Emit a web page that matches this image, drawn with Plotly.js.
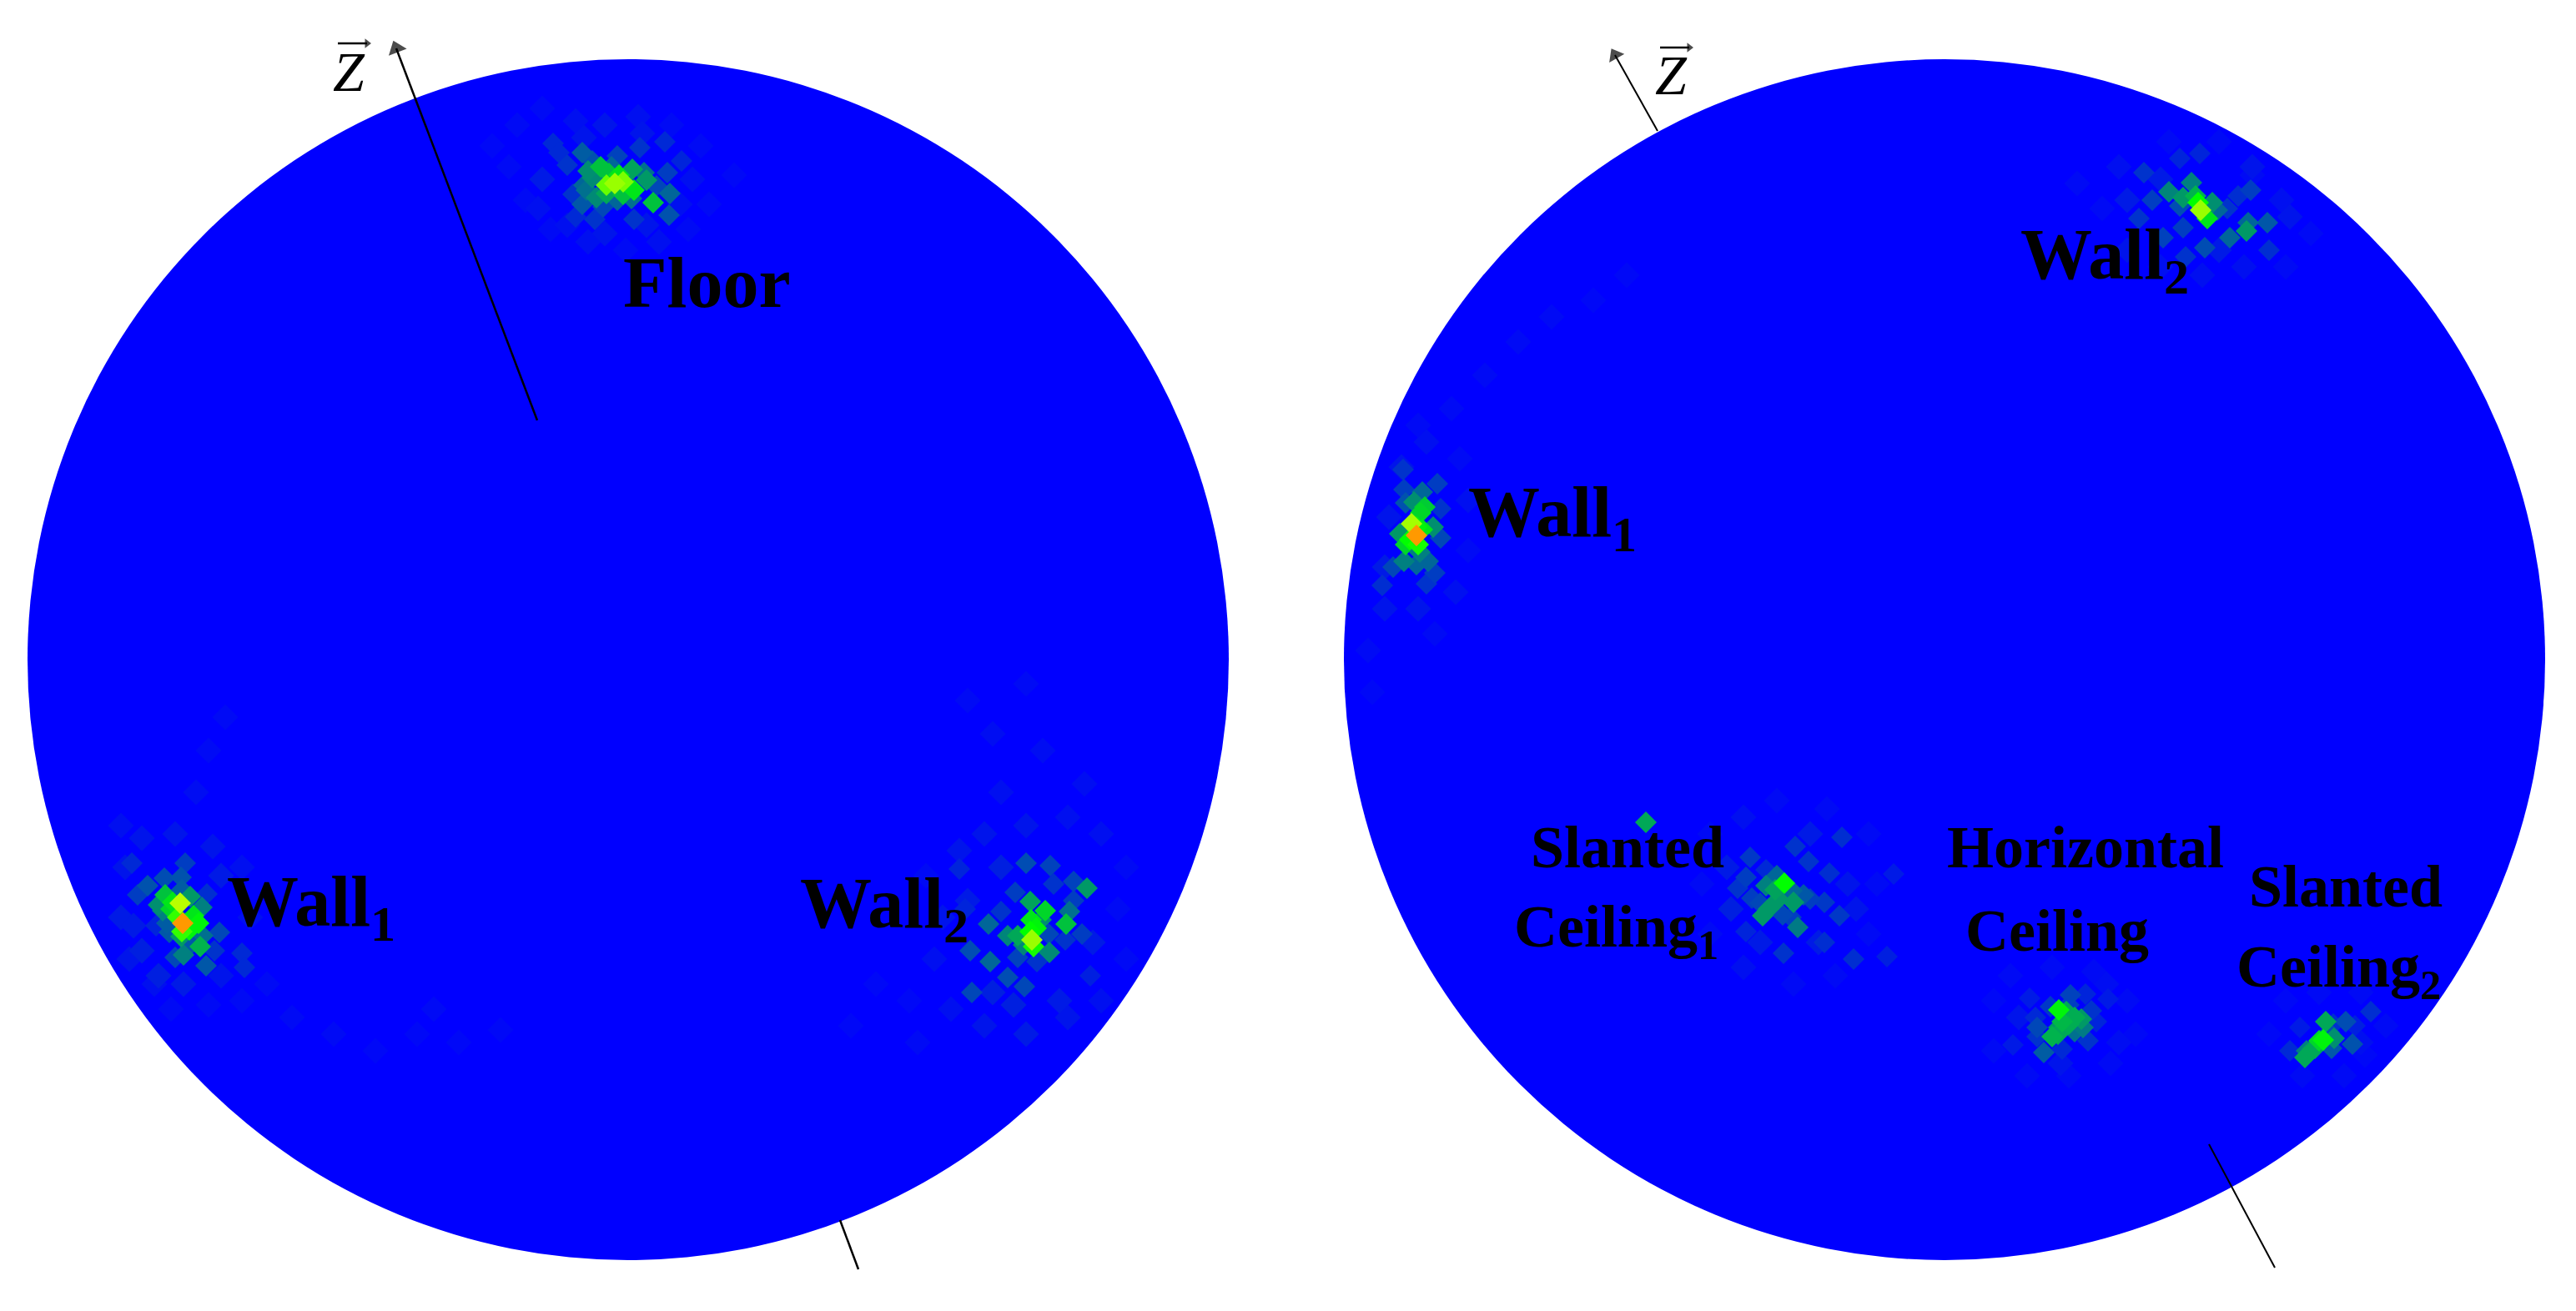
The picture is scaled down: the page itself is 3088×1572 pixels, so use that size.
<!DOCTYPE html>
<html>
<head>
<meta charset="utf-8">
<script src="https://cdn.plot.ly/plotly-3.0.1.min.js"></script>
<style>html,body{margin:0;padding:0;background:#fff}#plot{width:3088px;height:1572px}</style>
</head>
<body>
<div id="plot"></div>
<script>
// sphere discs, image pixel coordinates
var discR = 720;
var leftCx = 753, leftCy = 791;
var rightCx = 2331, rightCy = 791;

// left disc hot spots
var floorX = [737,747,727,742,720,730,758,772,760,747,775,727,715,710,705,700,703,783,757,740,733,710,698,740,767,797,800,803,802,760,698,723,680,663,670,687,787,713,690,817];
var floorY = [220,218,222,210,200,208,203,207,228,233,216,232,237,213,205,222,228,243,238,240,200,193,183,187,177,170,207,232,258,263,245,248,198,172,183,233,223,263,260,193];
var floorV = [.65,.62,.6,.45,.38,.38,.32,.22,.45,.38,.3,.33,.27,.27,.28,.2,.22,.38,.22,.2,.2,.16,.18,.13,.1,.08,.12,.2,.16,.1,.17,.14,.1,.08,.08,.1,.14,.1,.08,.07];

var wall1LX = [219,216,213,218,207,198,205,228,232,238,227,242,190,195,217,240,243,220,200,203,218,217,177,165,197,222,158,263,248,247,257,210,187,228,290,293];
var wall1LY = [1107,1083,1100,1117,1082,1073,1090,1075,1098,1107,1115,1088,1085,1092,1123,1135,1122,1145,1107,1118,1067,1052,1062,1073,1053,1035,1035,1118,1072,1158,1140,1148,1110,1133,1143,1160];
var wall1LV = [.85,.68,.55,.55,.45,.38,.42,.3,.45,.48,.48,.25,.28,.25,.3,.35,.22,.25,.18,.17,.18,.16,.16,.12,.15,.12,.08,.14,.09,.17,.1,.14,.07,.17,.08,.08];

var wall2LX = [1237,1239,1235,1242,1236,1253,1248,1235,1278,1220,1208,1227,1258,1303,1282,1185,1187,1163,1208,1165,1228,1230,1259,1217,1287,1150,1263,1200,1257,1220,1297,1277,1243,1157,1307,1287];
var wall2LY = [1127,1135,1117,1113,1103,1092,1103,1081,1108,1122,1122,1133,1142,1065,1093,1108,1153,1140,1172,1190,1183,1035,1038,1070,1057,1042,1060,1093,1120,1148,1120,1127,1153,1090,1170,1080];
var wall2LV = [.65,.52,.5,.48,.45,.42,.28,.32,.38,.33,.26,.26,.27,.3,.22,.2,.2,.15,.15,.14,.14,.15,.13,.12,.13,.07,.1,.1,.14,.13,.12,.1,.1,.07,.06,.12];

// right disc hot spots
var wall2RX = [2638,2635,2646,2632,2652,2617,2600,2627,2658,2693,2673,2718,2643,2593,2617,2580,2564,2570,2613,2637,2698,2683,2670,2695,2613,2620,2720];
var wall2RY = [252,243,262,235,243,237,230,219,252,277,285,267,297,285,273,240,262,207,190,184,228,235,250,267,247,308,300];
var wall2RV = [.65,.5,.45,.35,.28,.3,.26,.25,.2,.3,.2,.17,.15,.13,.12,.12,.1,.1,.07,.07,.12,.09,.1,.2,.15,.1,.09];

var wall1RX = [1698,1692,1690,1700,1698,1705,1703,1708,1685,1695,1718,1683,1705,1702,1712,1698,1727,1723,1683,1682,1670,1720,1657,1710,1727,1685,1678];
var wall1RY = [642,628,647,653,632,635,615,608,653,602,632,673,590,662,673,677,645,580,587,563,680,687,702,700,610,603,640];
var wall1RV = [.85,.66,.5,.52,.48,.45,.42,.4,.42,.28,.28,.25,.2,.25,.2,.2,.14,.12,.12,.1,.14,.12,.09,.1,.1,.16,.3];

var slant1X = [2139,2128,2117,2130,2132,2120,2113,2150,2148,2162,2155,2110,2093,2098,2152,2168,2208,2193,2187,2205,2138,2187,2222,2083,2093,2262,2137,2170,2147,2100,2117,2270,1973];
var slant1Y = [1059,1067,1062,1050,1078,1090,1098,1082,1068,1073,1112,1083,1052,1028,1015,1033,1004,1047,1082,1098,1143,1130,1150,1065,1117,1147,1097,1078,1100,1077,1043,1048,986];
var slant1V = [.5,.32,.25,.2,.3,.3,.3,.3,.2,.17,.24,.14,.12,.11,.1,.1,.09,.09,.11,.11,.1,.09,.09,.1,.07,.06,.14,.12,.12,.12,.08,.05,.33];

var horizX = [2468,2477,2487,2495,2472,2480,2468,2467,2460,2497,2487,2482,2480,2458,2442,2442,2450,2472,2503,2507,2513,2440,2500,2527,2433,2413];
var horizY = [1211,1213,1220,1222,1225,1228,1232,1240,1243,1232,1237,1193,1205,1207,1232,1243,1262,1258,1248,1212,1225,1220,1192,1198,1197,1253];
var horizV = [.48,.33,.34,.3,.36,.34,.3,.33,.35,.24,.22,.13,.12,.11,.14,.1,.18,.08,.1,.1,.07,.08,.07,.05,.05,.05];

var slant2X = [2780,2785,2775,2772,2788,2798,2792,2765,2763,2812,2820,2795,2842,2745,2757,2823,2797];
var slant2Y = [1248,1247,1257,1258,1225,1245,1238,1260,1268,1225,1252,1257,1213,1260,1232,1230,1228];
var slant2V = [.42,.48,.33,.3,.33,.28,.16,.25,.33,.15,.16,.17,.09,.08,.05,.06,.09];

// faint cells around the spots and along the scattering bands
var glowFloorX = [620,650,690,725,765,805,840,830,850,825,790,750,705,660,630,610,650,645,680,700,770,815,775,725,590,880];
var glowFloorY = [150,130,145,150,140,150,175,215,245,275,290,300,290,275,240,200,215,250,270,165,160,245,270,280,175,210];
var glowFloorV = [.02,.02,.03,.04,.03,.02,.02,.03,.02,.02,.03,.02,.03,.02,.02,.02,.05,.03,.03,.04,.04,.03,.04,.04,.015,.015];

var glowWall1LX = [150,145,155,185,205,250,290,320,300,290,255,210,170,145,235,250,270,350,400,450,500,550,600,520,170,160,265,220,190,265];
var glowWall1LY = [1040,1100,1150,1180,1210,1205,1200,1180,1100,1040,1015,1000,1005,990,950,900,860,1220,1240,1260,1240,1250,1235,1210,1140,1110,1170,1180,1170,1050];
var glowWall1LV = [.04,.05,.04,.03,.02,.02,.02,.02,.03,.03,.04,.04,.04,.03,.025,.02,.02,.02,.02,.015,.015,.015,.015,.02,.06,.05,.04,.05,.06,.05];

var glowWall2LX = [1110,1130,1120,1140,1180,1230,1280,1320,1350,1340,1350,1320,1280,1230,1180,1150,1200,1250,1190,1160,1230,1300,1090,1050,1020,1100,1190,1270,1310,1200,1160,1215];
var glowWall2LY = [1050,1100,1150,1210,1230,1240,1220,1200,1150,1090,1040,1000,980,990,1000,1020,950,900,880,840,820,940,1200,1180,1230,1250,1190,1200,1130,1040,1080,1205];
var glowWall2LV = [.02,.04,.03,.03,.04,.05,.04,.03,.02,.02,.02,.03,.03,.04,.04,.04,.03,.025,.025,.02,.02,.025,.015,.015,.015,.02,.06,.05,.05,.06,.05,.06];

var glowWall2RX = [2540,2600,2660,2700,2735,2770,2740,2690,2640,2590,2550,2520,2490,2550,2660,2700,2745,2590];
var glowWall2RY = [200,170,170,210,240,280,320,320,330,320,300,250,220,240,300,200,260,215];
var glowWall2RV = [.03,.02,.02,.02,.03,.02,.02,.03,.03,.03,.04,.02,.02,.05,.05,.04,.04,.05];

var glowWall1RX = [1680,1665,1660,1660,1700,1745,1760,1760,1750,1710,1700,1740,1780,1820,1860,1910,1950,1640,1645,1720];
var glowWall1RY = [560,620,680,730,730,710,660,600,550,530,510,490,450,410,380,360,330,780,830,760];
var glowWall1RV = [.04,.04,.05,.04,.04,.03,.02,.03,.02,.03,.02,.02,.02,.02,.02,.015,.015,.02,.015,.02];

var glowSlant1X = [2050,2040,2050,2090,2150,2200,2240,2250,2240,2190,2130,2090,2170,2070,2215,2075,2110,2180,2225];
var glowSlant1Y = [1000,1060,1120,1160,1180,1170,1120,1060,1000,970,960,980,1000,1040,1060,1090,1130,1130,1090];
var glowSlant1V = [.02,.02,.02,.03,.02,.02,.02,.02,.02,.02,.02,.03,.05,.05,.04,.06,.05,.05,.04];

var glowHorizX = [2390,2410,2460,2510,2550,2560,2530,2480,2430,2390,2525,2420,2540,2470];
var glowHorizY = [1200,1170,1160,1165,1200,1240,1275,1290,1290,1260,1180,1220,1250,1275];
var glowHorizV = [.015,.02,.02,.02,.02,.015,.02,.02,.02,.02,.025,.04,.025,.04];

var glowSlant2X = [2720,2740,2780,2830,2860,2835,2810,2760,2830];
var glowSlant2Y = [1240,1200,1190,1190,1230,1265,1290,1290,1250];
var glowSlant2V = [.015,.015,.02,.02,.02,.015,.02,.02,.03];

// z axis pieces and the little vector sign over the Z
var zLeftTopX = [644,475], zLeftTopY = [504,58];
var zLeftBotX = [1007,1029], zLeftBotY = [1463,1522];
var zRightTopX = [1987,1936], zRightTopY = [157,66];
var zRightBotX = [2648,2727], zRightBotY = [1372,1520];
var signLeftX = [405,440], signLeftY = [52,52];
var signRightX = [1990,2025], signRightY = [57,57];

var leftLabels = ['Floor','Wall<sub>1</sub>','Wall<sub>2</sub>'];
var leftLabelX = [847,270,957];
var leftLabelY = [339,1087,1089];
var rightLabels = ['Wall<sub>2</sub>','Wall<sub>1</sub>','Slanted','Ceiling<sub>1</sub>','Horizontal','Ceiling','Slanted','Ceiling<sub>2</sub>'];
var rightLabelX = [2420,1758,1951,1937,2500,2466,2812,2803];
var rightLabelY = [311,620,1016,1116,1016,1116,1063,1164];

var colorscale = [[0,'#0000ff'],[0.5,'#00ff00'],[0.75,'#ffff00'],[1,'#ff0000']];

// low values first so the bright cells sit on top
function cells(xs, ys, vs, xa, ya, size) {
    var x = [], y = [], v = [];
    var order = vs.map(function(d, i){ return i; }).sort(function(a, b){ return vs[a] - vs[b]; });
    order.forEach(function(i){ x.push(xs[i]); y.push(ys[i]); v.push(vs[i]); });
    return {
        x: x, y: y, xaxis: xa, yaxis: ya,
        type: 'scatter', mode: 'markers', hoverinfo: 'skip',
        marker: {symbol: 'diamond', size: size, color: v, colorscale: colorscale, cmin: 0, cmax: 1, line: {width: 0}}
    };
}

function zline(xs, ys, xa, ya, width, tip) {
    return {x: xs, y: ys, xaxis: xa, yaxis: ya, type: 'scatter', mode: 'lines+markers', hoverinfo: 'skip',
        line: {color: '#000', width: width},
        marker: {symbol: 'triangle-up', angleref: 'previous', size: [0, tip], color: '#000', line: {width: 0}}};
}

var data = [
    cells(glowFloorX.concat(glowWall1LX, glowWall2LX), glowFloorY.concat(glowWall1LY, glowWall2LY), glowFloorV.concat(glowWall1LV, glowWall2LV), 'x', 'y', 24),
    cells(glowWall2RX.concat(glowWall1RX, glowSlant1X, glowHorizX, glowSlant2X), glowWall2RY.concat(glowWall1RY, glowSlant1Y, glowHorizY, glowSlant2Y), glowWall2RV.concat(glowWall1RV, glowSlant1V, glowHorizV, glowSlant2V), 'x2', 'y2', 24),
    cells(floorX.concat(wall1LX, wall2LX), floorY.concat(wall1LY, wall2LY), floorV.concat(wall1LV, wall2LV), 'x', 'y', 20),
    cells(wall2RX.concat(wall1RX, slant1X, horizX, slant2X), wall2RY.concat(wall1RY, slant1Y, horizY, slant2Y), wall2RV.concat(wall1RV, slant1V, horizV, slant2V), 'x2', 'y2', 20),
    zline(zLeftTopX, zLeftTopY, 'x', 'y', 2.5, 20),
    zline(zLeftBotX, zLeftBotY, 'x', 'y', 2.5, 0),
    zline(zRightTopX, zRightTopY, 'x2', 'y2', 2, 18),
    zline(zRightBotX, zRightBotY, 'x2', 'y2', 2, 0),
    zline(signLeftX, signLeftY, 'x', 'y', 2.5, 10),
    zline(signRightX, signRightY, 'x2', 'y2', 2.5, 10)
];

function label(text, x, y, xa, ya, anchor, size) {
    return {text: text, x: x, y: y, xref: xa, yref: ya, showarrow: false, xanchor: anchor, yanchor: 'middle',
        font: {family: 'Liberation Serif', size: size, color: '#000'}};
}

var annotations = [];
leftLabels.forEach(function(t, i){
    annotations.push(label('<b>' + t + '</b>', leftLabelX[i], leftLabelY[i], 'x', 'y', i === 0 ? 'center' : 'left', 86));
});
rightLabels.forEach(function(t, i){
    annotations.push(label('<b>' + t + '</b>', rightLabelX[i], rightLabelY[i], 'x2', 'y2', i < 2 ? 'left' : 'center', i < 2 ? 86 : 72));
});
annotations.push(label('<i>Z</i>', 418, 86, 'x', 'y', 'center', 68));
annotations.push(label('<i>Z</i>', 2003, 90, 'x2', 'y2', 'center', 68));

function disc(cx, cy, xa, ya) {
    return {type: 'circle', xref: xa, yref: ya, x0: cx - discR, x1: cx + discR, y0: cy - discR, y1: cy + discR,
        fillcolor: '#0000ff', line: {width: 0}, layer: 'below'};
}

var layout = {
    width: 3088, height: 1572,
    margin: {l: 0, r: 0, t: 0, b: 0},
    paper_bgcolor: '#fff', plot_bgcolor: '#fff',
    showlegend: false,
    xaxis: {domain: [0, 0.5], range: [0, 1544], visible: false, anchor: 'y'},
    yaxis: {domain: [0, 1], range: [1572, 0], visible: false, anchor: 'x'},
    xaxis2: {domain: [0.5, 1], range: [1544, 3088], visible: false, anchor: 'y2'},
    yaxis2: {domain: [0, 1], range: [1572, 0], visible: false, anchor: 'x2'},
    shapes: [disc(leftCx, leftCy, 'x', 'y'), disc(rightCx, rightCy, 'x2', 'y2')],
    annotations: annotations
};

Plotly.newPlot('plot', data, layout, {displayModeBar: false, staticPlot: true});
</script>
</body>
</html>
